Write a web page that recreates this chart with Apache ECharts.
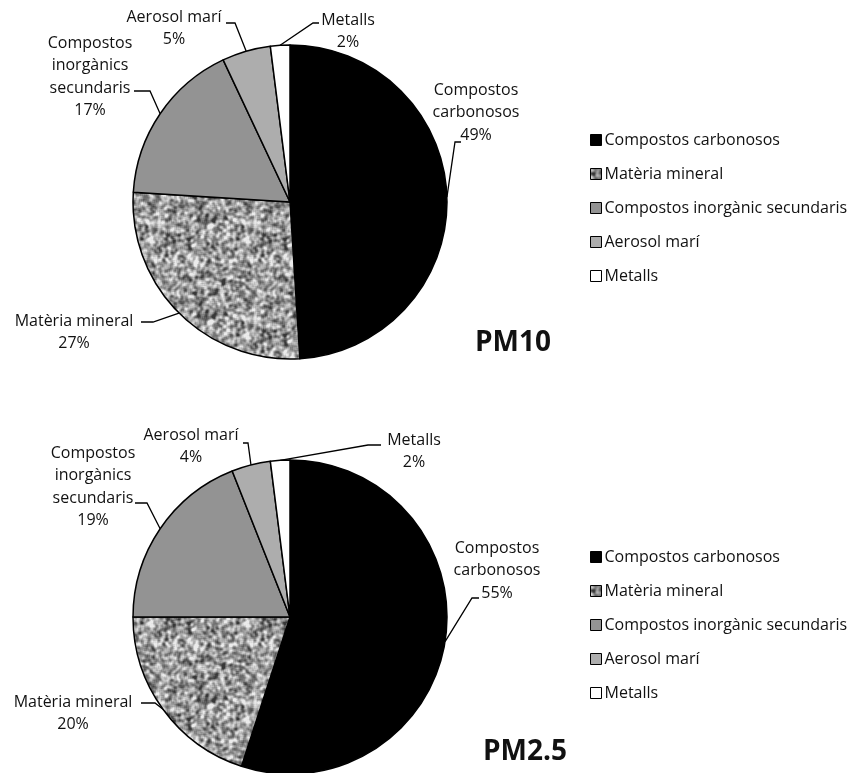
<!DOCTYPE html>
<html>
<head>
<meta charset="utf-8">
<script src="https://cdn.jsdelivr.net/npm/echarts@6/dist/echarts.min.js"></script>
<style>html,body{margin:0;padding:0;background:#fff}#c{width:851px;height:773px}</style>
</head>
<body>
<div id="c"></div>
<script>
// ---- data ----
var categories = ['Compostos carbonosos', 'Matèria mineral', 'Compostos inorgànic secundaris', 'Aerosol marí', 'Metalls'];
var labelTexts = ['Compostos\ncarbonosos', 'Matèria mineral', 'Compostos\ninorgànics\nsecundaris', 'Aerosol marí', 'Metalls'];
var pm10Values = [49, 27, 17, 5, 2];
var pm25Values = [55, 20, 19, 4, 2];
var chartTitles = ['PM10', 'PM2.5'];

// ---- speckled texture for "Matèria mineral" (deterministic hash noise) ----
function hash(x, y) {
  var n = Math.imul(x, 374761393) + Math.imul(y, 668265263);
  n = Math.imul(n ^ (n >>> 13), 1274126177);
  n = n ^ (n >>> 16);
  return (n >>> 0) / 4294967295;
}
function makeTexture() {
  var S = 96;
  var cv = document.createElement('canvas');
  cv.width = S; cv.height = S;
  var ctx = cv.getContext('2d');
  var v = [], i, x, y;
  for (y = 0; y < S; y++) for (x = 0; x < S; x++) v.push(hash(x, y));
  for (var pass = 0; pass < 2; pass++) {
    var nv = [];
    for (y = 0; y < S; y++) for (x = 0; x < S; x++) {
      var s = 0;
      for (var dy = -1; dy <= 1; dy++) for (var dx = -1; dx <= 1; dx++) {
        s += v[((y + dy + S) % S) * S + ((x + dx + S) % S)];
      }
      nv.push(s / 9);
    }
    v = nv;
  }
  var img = ctx.createImageData(S, S);
  for (i = 0; i < S * S; i++) {
    var g = 152 + (v[i] - 0.5) * 600;
    g = Math.max(55, Math.min(235, g));
    img.data[i * 4] = g; img.data[i * 4 + 1] = g; img.data[i * 4 + 2] = g; img.data[i * 4 + 3] = 255;
  }
  ctx.putImageData(img, 0, 0);
  return cv;
}
var texture = makeTexture();
var sliceColors = ['#000000', {image: texture, repeat: 'repeat'}, '#939393', '#adadad', '#ffffff'];

// ---- label layout (positions of label text + leader elbows) ----
var labelLayouts = [
  [
    {x: 476, y: 79, p1: [455, 142], p2: [461, 142]},
    {x: 74, y: 310, p1: [153, 322], p2: [141, 322]},
    {x: 90, y: 32, p1: [150, 91], p2: [134, 91]},
    {x: 174, y: 6, p1: [235, 23], p2: [226, 23]},
    {x: 348, y: 9, p1: [313, 23], p2: [319, 23]}
  ],
  [
    {x: 497, y: 537, p1: [472, 598], p2: [479, 598]},
    {x: 73, y: 691, p1: [155, 703], p2: [141, 703]},
    {x: 93, y: 442, p1: [147, 503], p2: [135, 503]},
    {x: 191, y: 424, p1: [248, 443], p2: [243, 443]},
    {x: 414, y: 429, p1: [368, 445], p2: [381, 445]}
  ]
];

function buildData(values) {
  return categories.map(function (name, i) {
    return {name: name, value: values[i], itemStyle: {color: sliceColors[i]}};
  });
}

var FONT = 'Open Sans';

function makeSeries(values, center, si) {
  return {
    type: 'pie',
    center: center,
    radius: 157,
    startAngle: 90,
    clockwise: true,
    avoidLabelOverlap: false,
    silent: true,
    animation: false,
    itemStyle: {borderColor: '#000', borderWidth: 1.5},
    label: {
      show: true,
      position: 'outside',
      fontFamily: FONT,
      fontSize: 16,
      lineHeight: 22.5,
      color: '#111',
      align: 'center',
      formatter: function (p) { return labelTexts[p.dataIndex] + '\n' + p.value + '%'; }
    },
    labelLine: {show: true, length: 10, length2: 10, lineStyle: {color: '#000', width: 1.3}},
    labelLayout: function (params) {
      var L = labelLayouts[si][params.dataIndex];
      var out = {x: L.x, y: L.y, align: 'center', verticalAlign: 'top'};
      if (params.labelLinePoints && params.labelLinePoints[0]) {
        out.labelLinePoints = [params.labelLinePoints[0], L.p1, L.p2];
      }
      return out;
    },
    data: buildData(values)
  };
}

function makeLegend(top) {
  return {
    orient: 'vertical',
    left: 585,
    top: top,
    itemWidth: 11,
    itemHeight: 11,
    itemGap: 18,
    icon: 'rect',
    selectedMode: false,
    itemStyle: {borderColor: '#000', borderWidth: 1},
    textStyle: {fontFamily: FONT, fontSize: 16, color: '#111', lineHeight: 16, padding: [0, 0, 0, -2]},
    data: categories
  };
}

var chart = echarts.init(document.getElementById('c'), null, {renderer: 'canvas'});
chart.setOption({
  backgroundColor: '#ffffff',
  animation: false,
  title: [
    {text: chartTitles[0], left: 475, top: 327, padding: 0,
     textStyle: {fontFamily: FONT, fontSize: 28, fontWeight: 'bold', color: '#111', lineHeight: 32}},
    {text: chartTitles[1], left: 483, top: 736, padding: 0,
     textStyle: {fontFamily: FONT, fontSize: 28, fontWeight: 'bold', color: '#111', lineHeight: 32}}
  ],
  legend: [makeLegend(127), makeLegend(544)],
  series: [
    makeSeries(pm10Values, [290, 202], 0),
    makeSeries(pm25Values, [290, 617], 1)
  ]
});
</script>
</body>
</html>
